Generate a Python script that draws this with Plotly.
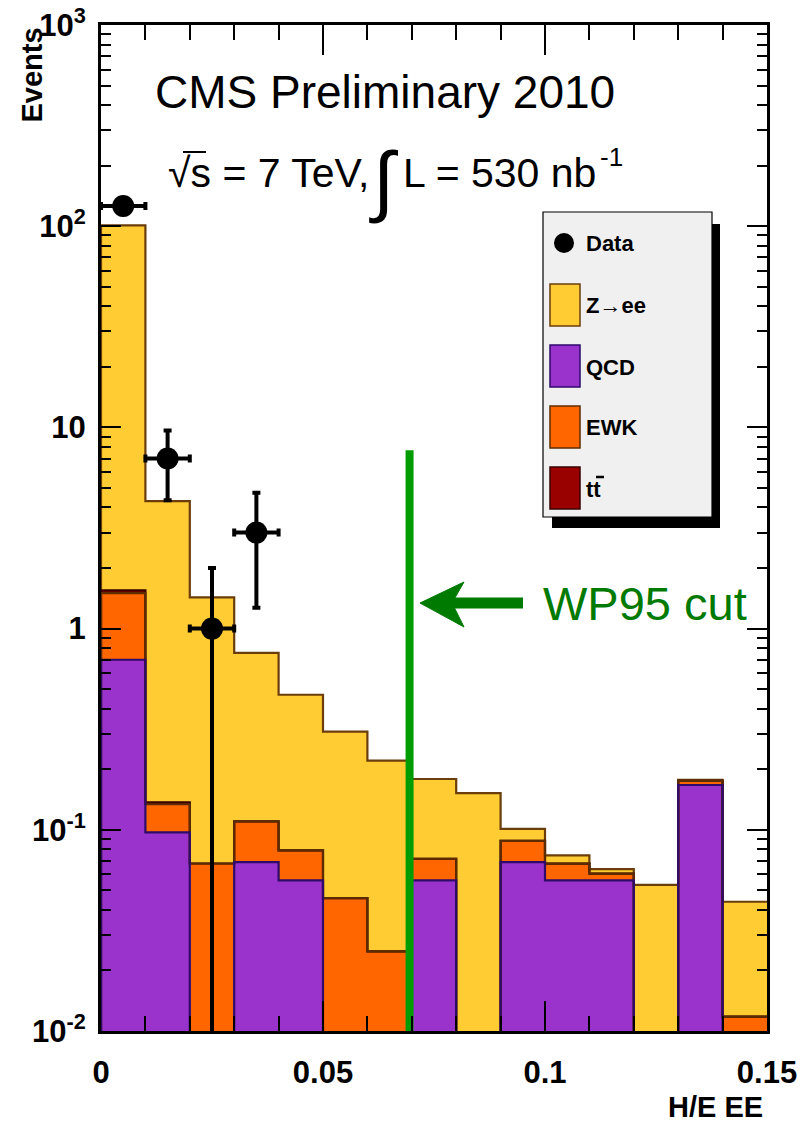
import plotly.graph_objects as go

# ---------------- data ----------------
bin_edges = [0.00, 0.01, 0.02, 0.03, 0.04, 0.05, 0.06, 0.07, 0.08,
             0.09, 0.10, 0.11, 0.12, 0.13, 0.14, 0.15]
qcd   = [0.70, 0.097, 0.0, 0.069, 0.056, 0.0, 0.0, 0.056, 0.0, 0.069, 0.056, 0.056, 0.0, 0.167, 0.0]
ewk   = [0.80, 0.037, 0.068, 0.041, 0.023, 0.0458, 0.0249, 0.0158, 0.0, 0.019, 0.0119, 0.0045, 0.0, 0.008, 0.0118]
ttbar = [0.05, 0.003, 0.0, 0.0, 0.0, 0.0, 0.0, 0.0, 0.0, 0.0, 0.0, 0.0, 0.0, 0.0, 0.0]
zee   = [99.4, 4.16, 1.36, 0.647, 0.390, 0.262, 0.196, 0.107, 0.152, 0.0131, 0.0067, 0.0033, 0.0533, 0.002, 0.0321]
data_counts = [126, 7, 1, 3, 0, 0, 0, 0, 0, 0, 0, 0, 0, 0, 0]
data_err    = [11.2, 2.65, 0.9999, 1.73, 0, 0, 0, 0, 0, 0, 0, 0, 0, 0, 0]
data_err_up = [11.2, 2.65, 1.0, 1.73, 0, 0, 0, 0, 0, 0, 0, 0, 0, 0, 0]
half_bin = 0.005
cut_value = 0.0695
cut_top = 7.7

y_tickvals = [0.01, 0.1, 1, 10, 100, 1000]
y_ticktext = ["10<sup>-2</sup>", "10<sup>-1</sup>", "1", "10", "10<sup>2</sup>", "10<sup>3</sup>"]
x_tickvals = [0, 0.05, 0.10, 0.15]
x_ticktext = ["0", "0.05", "0.1", "0.15"]

# ---------------- styles ----------------
C_Z, L_Z = "#ffcc33", "#6b3d0a"
C_QCD, L_QCD = "#9933cc", "#2e0a6b"
C_EWK, L_EWK = "#ff6600", "#5c2c00"
C_TT, L_TT = "#990000", "#3a0000"
FONT = "Liberation Sans, Arial, Helvetica, sans-serif"

W, H = 800, 1125
PL, PR, PT, PB = 101, 767, 25, 1031   # plot area in pixels


def px(x):
    return (x - PL) / (PR - PL)


def py(y):
    return (PB - y) / (PB - PT)


centers = [(a + b) / 2 for a, b in zip(bin_edges[:-1], bin_edges[1:])]

cum_qcd = qcd[:]
cum_ewk = [a + b for a, b in zip(cum_qcd, ewk)]
cum_tt = [a + b for a, b in zip(cum_ewk, ttbar)]
cum_tot = [a + b for a, b in zip(cum_tt, zee)]

fig = go.Figure()

# filled stack
for vals, col in [(qcd, C_QCD), (ewk, C_EWK), (ttbar, C_TT), (zee, C_Z)]:
    fig.add_trace(go.Bar(x=centers, y=vals, width=0.01, marker=dict(color=col, line=dict(width=0)),
                         showlegend=False, hoverinfo="skip"))

# outlines (painter order: total first, qcd last)
TINY = 1e-4


def step(cum):
    ys = [v if v > 0 else TINY for v in cum]
    return [bin_edges[0]] + bin_edges, [TINY] + ys + [ys[-1]]


for cum, lc in [(cum_tot, L_Z), (cum_tt, L_TT), (cum_ewk, L_EWK), (cum_qcd, L_QCD)]:
    sx, sy = step(cum)
    fig.add_trace(go.Scatter(x=sx, y=sy, mode="lines", line=dict(color=lc, width=2.2, shape="hv"),
                             showlegend=False, hoverinfo="skip"))

# cut line
fig.add_trace(go.Scatter(x=[cut_value, cut_value], y=[TINY, cut_top], mode="lines",
                         line=dict(color="#009c00", width=8), showlegend=False, hoverinfo="skip"))

# data points
dx = [c for c, n in zip(centers, data_counts) if n > 0]
dy = [n for n in data_counts if n > 0]
de = [e for e, n in zip(data_err, data_counts) if n > 0]
deu = [e for e, n in zip(data_err_up, data_counts) if n > 0]
fig.add_trace(go.Scatter(
    x=dx, y=dy, mode="markers",
    marker=dict(color="black", size=22),
    error_x=dict(type="constant", value=half_bin, color="black", thickness=4, width=4),
    error_y=dict(type="data", array=deu, arrayminus=de, color="black", thickness=4, width=4),
    showlegend=False, hoverinfo="skip"))

# invisible trace to carry the mirrored minor-tick axes
fig.add_trace(go.Scatter(x=[0.05], y=[1], xaxis="x2", yaxis="y2", mode="markers",
                         marker=dict(opacity=0), showlegend=False, hoverinfo="skip"))

shapes = []
annotations = []

# arrow
shapes.append(dict(type="line", xref="paper", yref="paper", x0=px(450), x1=px(523), y0=py(603), y1=py(603),
                   line=dict(color="#007a00", width=11), layer="above"))
path = "M {} {} L {} {} L {} {} L {} {} Z".format(px(420), py(603), px(464), py(582), px(452), py(603), px(464), py(627))
shapes.append(dict(type="path", xref="paper", yref="paper", path=path, fillcolor="#007a00",
                   line=dict(color="#007a00", width=1), layer="above"))
annotations.append(dict(text="WP95 cut", x=px(541), y=py(603), xref="paper", yref="paper",
                        xanchor="left", yanchor="middle", showarrow=False,
                        font=dict(family=FONT, size=47, color="#007a00")))

# legend box with shadow
shapes.append(dict(type="rect", xref="paper", yref="paper", x0=px(552), x1=px(720), y0=py(528), y1=py(224),
                   fillcolor="black", line=dict(width=0), layer="above"))
shapes.append(dict(type="rect", xref="paper", yref="paper", x0=px(543), x1=px(712), y0=py(517), y1=py(212),
                   fillcolor="#f0f0f0", line=dict(color="black", width=1.2), layer="above"))
# data marker
r = 10
shapes.append(dict(type="circle", xref="paper", yref="paper", x0=px(564 - r), x1=px(564 + r),
                   y0=py(243 + r), y1=py(243 - r), fillcolor="black", line=dict(color="black", width=0),
                   layer="above"))
legend_items = [("<b>Data</b>", 243, None, None),
                ("<b>Z→ee</b>", 305, C_Z, L_Z),
                ("<b>QCD</b>", 366, C_QCD, L_QCD),
                ("<b>EWK</b>", 427, C_EWK, L_EWK),
                ("<b>tt</b>", 488, C_TT, L_TT)]
for label, yc, fc, lc in legend_items:
    if fc is not None:
        shapes.append(dict(type="rect", xref="paper", yref="paper", x0=px(550), x1=px(580),
                           y0=py(yc + 21), y1=py(yc - 21), fillcolor=fc, line=dict(color=lc, width=1.5),
                           layer="above"))
    annotations.append(dict(text=label, x=px(584), y=py(yc + 1), xref="paper", yref="paper",
                            xanchor="left", yanchor="middle", showarrow=False,
                            font=dict(family=FONT, size=22, color="black")))
# overline of t-bar
shapes.append(dict(type="line", xref="paper", yref="paper", x0=px(596), x1=px(604), y0=py(477), y1=py(477),
                   line=dict(color="black", width=2.5), layer="above"))

# header texts
annotations.append(dict(text="CMS Preliminary 2010", x=px(385), y=py(92), xref="paper", yref="paper",
                        xanchor="center", yanchor="middle", showarrow=False,
                        font=dict(family=FONT, size=46, color="black")))
annotations.append(dict(text="√s = 7 TeV,", x=px(166), y=py(173), xref="paper", yref="paper",
                        xanchor="left", yanchor="middle", showarrow=False,
                        font=dict(family=FONT, size=41, color="black")))
# vinculum of the square root
shapes.append(dict(type="line", xref="paper", yref="paper", x0=px(183), x1=px(206), y0=py(152), y1=py(152),
                   line=dict(color="black", width=2), layer="above"))
annotations.append(dict(text="∫", x=px(384), y=py(180), xref="paper", yref="paper",
                        xanchor="center", yanchor="middle", showarrow=False,
                        font=dict(family=FONT, size=78, color="black")))
annotations.append(dict(text="L = 530 nb", x=px(401), y=py(173), xref="paper", yref="paper",
                        xanchor="left", yanchor="middle", showarrow=False,
                        font=dict(family=FONT, size=41, color="black")))
annotations.append(dict(text="-1", x=px(598), y=py(157), xref="paper", yref="paper",
                        xanchor="left", yanchor="middle", showarrow=False,
                        font=dict(family=FONT, size=26, color="black")))

# axis titles
annotations.append(dict(text="<b>Events</b>", x=px(32), y=py(26), xref="paper", yref="paper",
                        xanchor="center", yanchor="top", textangle=-90, showarrow=False,
                        font=dict(family=FONT, size=29, color="black")))
annotations.append(dict(text="<b>H/E EE</b>", x=px(765), y=py(1107), xref="paper", yref="paper",
                        xanchor="right", yanchor="middle", showarrow=False,
                        font=dict(family=FONT, size=29, color="black")))

minor_y = [k * 10.0 ** d for d in range(-2, 3) for k in range(2, 10)]
minor_x = [e for e in bin_edges if e not in x_tickvals]

tickfont = dict(family=FONT, size=31, color="black", weight="bold")

fig.update_layout(
    width=W, height=H,
    margin=dict(l=PL, r=W - PR, t=PT, b=H - PB, pad=0, autoexpand=False),
    paper_bgcolor="white", plot_bgcolor="white",
    barmode="stack", bargap=0,
    showlegend=False,
    shapes=shapes, annotations=annotations,
    xaxis=dict(range=[0, 0.15], tickmode="array", tickvals=x_tickvals, ticktext=x_ticktext,
               ticks="inside", ticklen=30, tickwidth=2, tickcolor="black",
               showline=True, linecolor="black", linewidth=3, mirror="ticks",
               showgrid=False, zeroline=False, ticklabelstandoff=12, automargin=False,
               tickfont=tickfont,
               minor=dict(tickmode="array", tickvals=minor_x, ticks="inside", ticklen=15,
                          tickwidth=2, tickcolor="black", showgrid=False)),
    yaxis=dict(type="log", range=[-2, 3], tickmode="array", tickvals=y_tickvals, ticktext=y_ticktext,
               ticks="inside", ticklen=20, tickwidth=2, tickcolor="black",
               showline=True, linecolor="black", linewidth=3, mirror="ticks",
               showgrid=False, zeroline=False, ticklabelstandoff=6, automargin=False,
               tickfont=tickfont,
               minor=dict(tickmode="array", tickvals=minor_y, ticks="inside", ticklen=10,
                          tickwidth=2, tickcolor="black", showgrid=False)),
    xaxis2=dict(overlaying="x", side="top", anchor="y", range=[0, 0.15], tickmode="array",
                tickvals=minor_x, ticks="inside", ticklen=15, tickwidth=2, tickcolor="black",
                showticklabels=False, showline=False, showgrid=False, zeroline=False, automargin=False),
    yaxis2=dict(overlaying="y", side="right", anchor="x", type="log", range=[-2, 3], tickmode="array",
                tickvals=minor_y, ticks="inside", ticklen=10, tickwidth=2, tickcolor="black",
                showticklabels=False, showline=False, showgrid=False, zeroline=False, automargin=False),
)

fig.write_html("out.html")
